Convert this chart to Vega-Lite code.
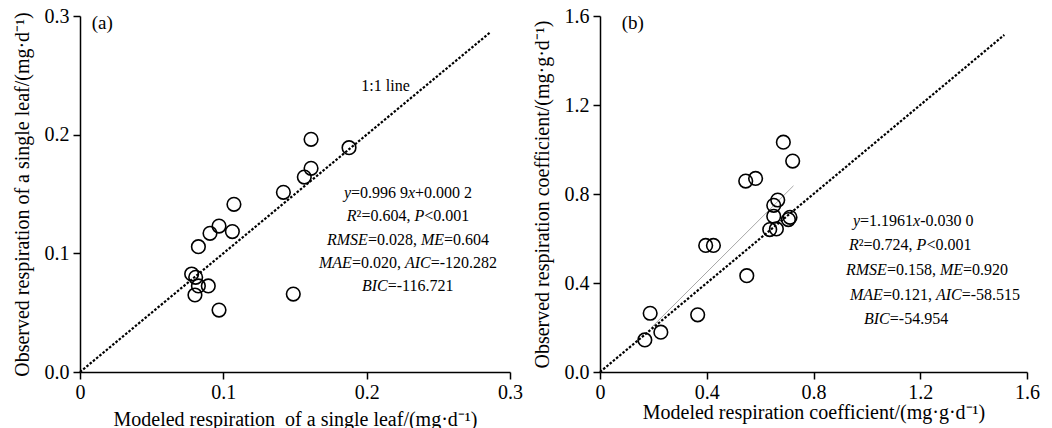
{
  "$schema": "https://vega.github.io/schema/vega-lite/v6.json",
  "background": "white",
  "padding": {"left": 12, "top": 6, "right": 8, "bottom": 0},
  "spacing": 90,
  "bounds": "flush",
  "config": {
    "font": "Liberation Serif",
    "view": {"stroke": null},
    "axis": {
      "grid": false,
      "domainColor": "black",
      "domainWidth": 1.5,
      "tickColor": "black",
      "tickWidth": 1.5,
      "tickSize": 7,
      "labelFont": "Liberation Serif",
      "labelFontSize": 20,
      "labelColor": "black",
      "labelFlush": false,
      "labelOverlap": false,
      "titleFont": "Liberation Serif",
      "titleFontSize": 20,
      "titleFontWeight": "normal",
      "titleColor": "black"
    },
    "axisX": {"labelPadding": 3},
    "axisY": {"labelPadding": 4, "titlePadding": 12}
  },
  "datasets": {
    "ptsA": [
      {"x": 0.0779, "y": 0.0826}, {"x": 0.0807, "y": 0.0798}, {"x": 0.0826, "y": 0.0725},
      {"x": 0.0895, "y": 0.0725}, {"x": 0.0802, "y": 0.0649}, {"x": 0.0826, "y": 0.1056},
      {"x": 0.0907, "y": 0.1169}, {"x": 0.0970, "y": 0.1230}, {"x": 0.1063, "y": 0.1183},
      {"x": 0.1074, "y": 0.1413}, {"x": 0.0970, "y": 0.0522}, {"x": 0.1419, "y": 0.1514},
      {"x": 0.1565, "y": 0.1643}, {"x": 0.1612, "y": 0.1716}, {"x": 0.1612, "y": 0.1961},
      {"x": 0.1877, "y": 0.1890}, {"x": 0.1488, "y": 0.0657}
    ],
    "ptsB": [
      {"x": 0.687, "y": 1.033}, {"x": 0.722, "y": 0.948}, {"x": 0.546, "y": 0.858},
      {"x": 0.583, "y": 0.870}, {"x": 0.666, "y": 0.773}, {"x": 0.651, "y": 0.749},
      {"x": 0.651, "y": 0.700}, {"x": 0.712, "y": 0.695}, {"x": 0.706, "y": 0.685},
      {"x": 0.636, "y": 0.640}, {"x": 0.661, "y": 0.643}, {"x": 0.396, "y": 0.569},
      {"x": 0.425, "y": 0.569}, {"x": 0.550, "y": 0.433}, {"x": 0.366, "y": 0.257},
      {"x": 0.188, "y": 0.264}, {"x": 0.228, "y": 0.179}, {"x": 0.168, "y": 0.144}
    ],
    "idA": [{"x": 0, "y": 0}, {"x": 0.2865, "y": 0.2865}],
    "idB": [{"x": 0, "y": 0}, {"x": 1.515, "y": 1.515}],
    "fitB": [{"x": 0.19, "y": 0.197}, {"x": 0.725, "y": 0.837}],
    "itA": [
      {"x": 0.18412, "y": 0.14663, "t": "y"},
      {"x": 0.22884, "y": 0.14663, "t": "x"},
      {"x": 0.18614, "y": 0.12699, "t": "R"},
      {"x": 0.23330, "y": 0.12699, "t": "P"},
      {"x": 0.17233, "y": 0.10736, "t": "RMSE"},
      {"x": 0.23784, "y": 0.10736, "t": "ME"},
      {"x": 0.16674, "y": 0.08772, "t": "MAE"},
      {"x": 0.22667, "y": 0.08772, "t": "AIC"},
      {"x": 0.19667, "y": 0.06809, "t": "BIC"}
    ],
    "roA": [
      {"x": 0.18907, "y": 0.14663, "t": "=0.996 9"},
      {"x": 0.23379, "y": 0.14663, "t": "+0.000 2"},
      {"x": 0.19298, "y": 0.12699, "t": "²=0.604,"},
      {"x": 0.24014, "y": 0.12699, "t": "<0.001"},
      {"x": 0.20086, "y": 0.10736, "t": "=0.028,"},
      {"x": 0.25395, "y": 0.10736, "t": "=0.604"},
      {"x": 0.18970, "y": 0.08772, "t": "=0.020,"},
      {"x": 0.24467, "y": 0.08772, "t": "=-120.282"},
      {"x": 0.21467, "y": 0.06809, "t": "=-116.721"},
      {"x": 0.19626, "y": 0.23705, "t": "1:1 line"}
    ],
    "itB": [
      {"x": 0.94801, "y": 0.65618, "t": "y"},
      {"x": 1.17321, "y": 0.65618, "t": "x"},
      {"x": 0.93302, "y": 0.55056, "t": "R"},
      {"x": 1.18632, "y": 0.55056, "t": "P"},
      {"x": 0.92178, "y": 0.43596, "t": "RMSE"},
      {"x": 1.27363, "y": 0.43596, "t": "ME"},
      {"x": 0.93677, "y": 0.32360, "t": "MAE"},
      {"x": 1.25864, "y": 0.32360, "t": "AIC"},
      {"x": 0.98923, "y": 0.21573, "t": "BIC"}
    ],
    "roB": [
      {"x": 0.97461, "y": 0.65618, "t": "=1.1961"},
      {"x": 1.19981, "y": 0.65618, "t": "-0.030 0"},
      {"x": 0.96975, "y": 0.55056, "t": "²=0.724,"},
      {"x": 1.22305, "y": 0.55056, "t": "<0.001"},
      {"x": 1.07503, "y": 0.43596, "t": "=0.158,"},
      {"x": 1.36019, "y": 0.43596, "t": "=0.920"},
      {"x": 1.06005, "y": 0.32360, "t": "=0.121,"},
      {"x": 1.35532, "y": 0.32360, "t": "=-58.515"},
      {"x": 1.08590, "y": 0.21573, "t": "=-54.954"}
    ],
    "tagA": [{"x": 0.00816, "y": 0.28904, "t": "(a)"}],
    "tagB": [{"x": 0.08131, "y": 1.54157, "t": "(b)"}]
  },
  "hconcat": [
    {
      "width": 430,
      "height": 356,
      "encoding": {
        "x": {"field": "x", "type": "quantitative",
              "scale": {"domain": [0, 0.3], "nice": false, "zero": false},
              "axis": {"values": [0, 0.1, 0.2, 0.3], "titlePadding": 7,
                       "labelExpr": "datum.value == 0 ? '0' : format(datum.value, '.1f')",
                       "title": "Modeled respiration\u00a0 of a single leaf/(mg·d⁻¹)"}},
        "y": {"field": "y", "type": "quantitative",
              "scale": {"domain": [0, 0.3], "nice": false, "zero": false},
              "axis": {"values": [0, 0.1, 0.2, 0.3], "format": ".1f",
                       "title": "Observed respiration of a single leaf/(mg·d⁻¹)"}}
      },
      "layer": [
        {"data": {"name": "idA"}, "mark": {"type": "line", "color": "black", "strokeWidth": 2.2, "strokeDash": [2.5, 1.7]}},
        {"data": {"name": "ptsA"}, "mark": {"type": "point", "shape": "circle", "filled": false, "size": 185, "strokeWidth": 1.6, "color": "black", "opacity": 1}},
        {"data": {"name": "itA"}, "mark": {"type": "text", "align": "left", "baseline": "alphabetic", "fontSize": 16, "fontStyle": "italic", "color": "black"}, "encoding": {"text": {"field": "t"}}},
        {"data": {"name": "roA"}, "mark": {"type": "text", "align": "left", "baseline": "alphabetic", "fontSize": 16, "color": "black"}, "encoding": {"text": {"field": "t"}}},
        {"data": {"name": "tagA"}, "mark": {"type": "text", "align": "left", "baseline": "alphabetic", "fontSize": 19, "color": "black"}, "encoding": {"text": {"field": "t"}}}
      ]
    },
    {
      "width": 427,
      "height": 356,
      "encoding": {
        "x": {"field": "x", "type": "quantitative",
              "scale": {"domain": [0, 1.6], "nice": false, "zero": false},
              "axis": {"values": [0, 0.4, 0.8, 1.2, 1.6], "titlePadding": 0,
                       "labelExpr": "datum.value == 0 ? '0' : format(datum.value, '.1f')",
                       "title": "Modeled respiration coefficient/(mg·g·d⁻¹)"}},
        "y": {"field": "y", "type": "quantitative",
              "scale": {"domain": [0, 1.6], "nice": false, "zero": false},
              "axis": {"values": [0, 0.4, 0.8, 1.2, 1.6], "format": ".1f",
                       "title": "Observed respiration coefficient/(mg·g·d⁻¹)"}}
      },
      "layer": [
        {"data": {"name": "fitB"}, "mark": {"type": "line", "color": "#a8a8a8", "strokeWidth": 1}},
        {"data": {"name": "idB"}, "mark": {"type": "line", "color": "black", "strokeWidth": 2.2, "strokeDash": [2.5, 1.7]}},
        {"data": {"name": "ptsB"}, "mark": {"type": "point", "shape": "circle", "filled": false, "size": 185, "strokeWidth": 1.6, "color": "black", "opacity": 1}},
        {"data": {"name": "itB"}, "mark": {"type": "text", "align": "left", "baseline": "alphabetic", "fontSize": 16, "fontStyle": "italic", "color": "black"}, "encoding": {"text": {"field": "t"}}},
        {"data": {"name": "roB"}, "mark": {"type": "text", "align": "left", "baseline": "alphabetic", "fontSize": 16, "color": "black"}, "encoding": {"text": {"field": "t"}}},
        {"data": {"name": "tagB"}, "mark": {"type": "text", "align": "left", "baseline": "alphabetic", "fontSize": 19, "color": "black"}, "encoding": {"text": {"field": "t"}}}
      ]
    }
  ]
}
